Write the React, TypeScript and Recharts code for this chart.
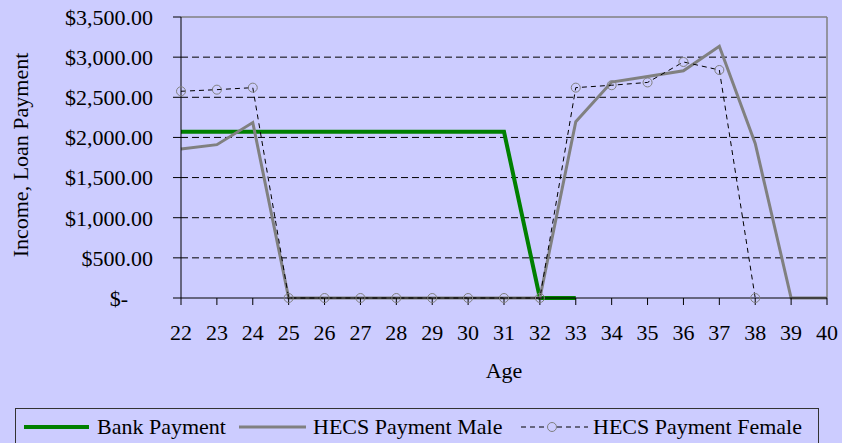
import React from "react";
import {
  CartesianGrid,
  Label,
  Line,
  LineChart,
  ReferenceLine,
  XAxis,
  YAxis,
} from "recharts";

const ages = [22, 23, 24, 25, 26, 27, 28, 29, 30, 31, 32, 33, 34, 35, 36, 37, 38, 39, 40];
const bankPayment = [2070, 2070, 2070, 2070, 2070, 2070, 2070, 2070, 2070, 2070, 0, 0, null, null, null, null, null, null, null];
const hecsMale = [1855, 1910, 2185, 0, 0, 0, 0, 0, 0, 0, 0, 2195, 2690, 2760, 2830, 3135, 1925, 0, 0];
const hecsFemale = [2575, 2595, 2620, 0, 0, 0, 0, 0, 0, 0, 0, 2620, 2650, 2685, 2940, 2840, 0, null, null];
const yTicks = [0, 500, 1000, 1500, 2000, 2500, 3000, 3500];
const gridValues = [500, 1000, 1500, 2000, 2500, 3000];

const data = ages.map((age, i) => ({
  age,
  bank: bankPayment[i],
  male: hecsMale[i],
  female: hecsFemale[i],
}));

const FONT = '"Liberation Serif", "Times New Roman", serif';
const BG = "#CCCCFF";
const textStyle = { fontFamily: FONT, fontSize: 22 };

const fmtMoney = (v: number) =>
  v === 0 ? "$-" : "$" + v.toLocaleString("en-US", { minimumFractionDigits: 2, maximumFractionDigits: 2 });

function YTick({ x, y, payload }: any) {
  const shift = payload.value === 0 ? 25 : 0;
  return (
    <text x={x - shift} y={y} dy="0.355em" textAnchor="end" fill="#000" style={textStyle}>
      {fmtMoney(payload.value)}
    </text>
  );
}

function XTick({ x, y, payload }: any) {
  return (
    <text x={x} y={y} dy="0.71em" textAnchor="middle" fill="#000" style={textStyle}>
      {payload.value}
    </text>
  );
}

function FemaleDot({ cx, cy, index }: any) {
  if (cx == null || cy == null) return <g key={index} />;
  return <circle key={index} cx={cx} cy={cy} r={4.5} fill="none" stroke="#808080" strokeWidth={1} />;
}

function ChartLegend() {
  return (
    <svg width={842} height={443} style={{ position: "absolute", left: 0, top: 0, pointerEvents: "none" }}>
      <rect x={15.5} y={408.5} width={803} height={50} fill={BG} stroke="#333" strokeWidth={1} />
      <g style={textStyle} fill="#000">
        <line x1={24} x2={89} y1={427} y2={427} stroke="#008000" strokeWidth={4} />
        <text x={97} y={434}>Bank Payment</text>
        <line x1={239} x2={306} y1={427} y2={427} stroke="#808080" strokeWidth={3} />
        <text x={313} y={434}>HECS Payment Male</text>
        <line x1={521} x2={588} y1={427} y2={427} stroke="#000" strokeWidth={1} strokeDasharray="5 4" />
        <circle cx={552} cy={427} r={4.5} fill={BG} stroke="#808080" strokeWidth={1} />
        <text x={593} y={434}>HECS Payment Female</text>
      </g>
    </svg>
  );
}

export default function App() {
  return (
    <div
      style={{
        position: "absolute",
        left: 0,
        top: 0,
        width: 842,
        height: 443,
        background: BG,
        overflow: "hidden",
        fontFamily: FONT,
      }}
    >
      <LineChart
        width={842}
        height={443}
        data={data}
        margin={{ top: 17, right: 15, bottom: 65, left: 0 }}
        style={{ fontFamily: FONT }}
      >
        <CartesianGrid vertical={false} horizontalValues={gridValues} stroke="#000" strokeDasharray="7 4" />
        <ReferenceLine y={3500} stroke="#808080" strokeWidth={1.5} />
        <ReferenceLine x={40} stroke="#808080" strokeWidth={1.5} />
        <XAxis
          dataKey="age"
          interval={0}
          height={80}
          tickSize={7}
          tickMargin={19}
          stroke="#000"
          tick={<XTick />}
        >
          <Label value="Age" position="insideBottom" offset={0} fill="#000" style={textStyle} />
        </XAxis>
        <YAxis
          width={181}
          domain={[0, 3500]}
          ticks={yTicks}
          tickSize={8}
          tickMargin={20}
          stroke="#000"
          tick={<YTick />}
          label={{
            content: () => (
              <text
                x={20}
                y={155}
                transform="rotate(-90 20 155)"
                textAnchor="middle"
                dominantBaseline="central"
                fill="#000"
                style={textStyle}
              >
                Income, Loan Payment
              </text>
            ),
          }}
        />
        <Line
          dataKey="bank"
          stroke="#008000"
          strokeWidth={4}
          dot={false}
          activeDot={false}
          isAnimationActive={false}
        />
        <Line
          dataKey="male"
          stroke="#808080"
          strokeWidth={3}
          dot={false}
          activeDot={false}
          isAnimationActive={false}
        />
        <Line
          dataKey="female"
          stroke="#000"
          strokeWidth={1}
          strokeDasharray="5 4"
          dot={<FemaleDot />}
          activeDot={false}
          isAnimationActive={false}
        />
      </LineChart>
      <ChartLegend />
    </div>
  );
}
